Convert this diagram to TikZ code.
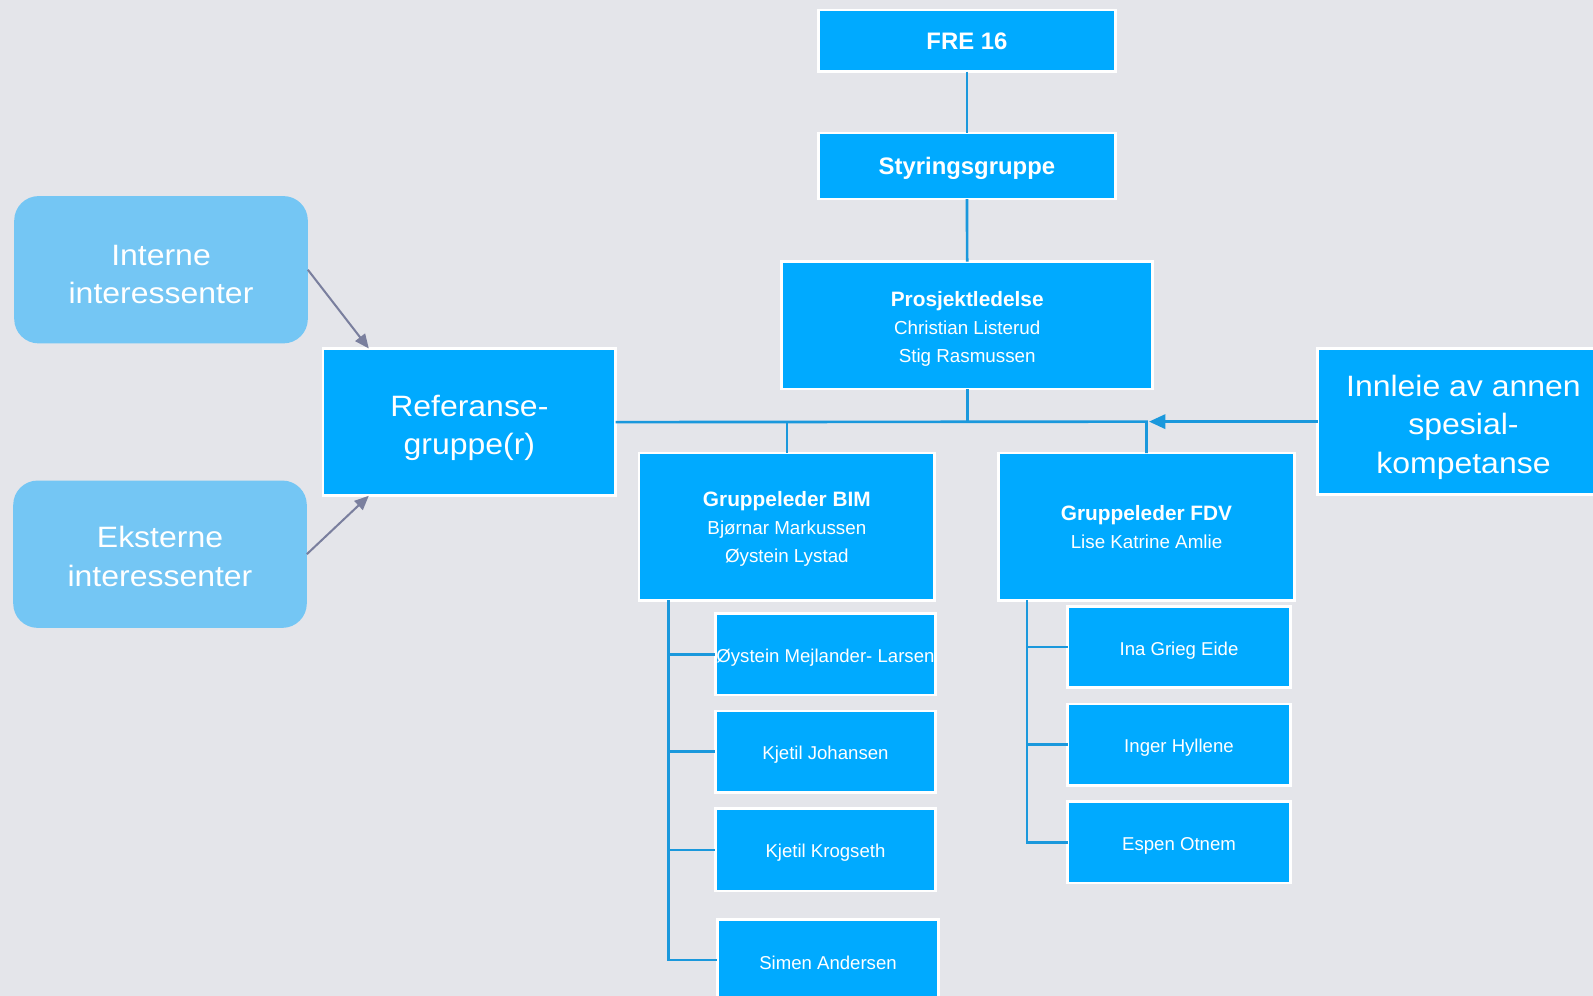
\documentclass[tikz,border=0pt]{standalone}
\usepackage{fontspec}
\setmainfont{Liberation Sans}
\newfontfamily\bigfont[FakeStretch=1.085]{Liberation Sans}
\usetikzlibrary{arrows.meta}
\definecolor{bg}{RGB}{228,229,234}
\definecolor{boxblue}{RGB}{0,170,255}
\definecolor{lightblue}{RGB}{116,198,244}
\definecolor{linec}{RGB}{26,152,220}
\definecolor{arrowgray}{RGB}{122,127,158}
\newcommand{\tstrut}[1]{\rule{0pt}{#1}}
\begin{document}
\begin{tikzpicture}[x=1pt,y=-1pt,
  box/.style={draw=white, line width=2.6pt, fill=boxblue, text=white, inner sep=0pt, outer sep=0pt, align=center},
  soft/.style={fill=lightblue, text=white, rounded corners=24pt, inner sep=0pt, outer sep=0pt, align=center},
  conn/.style={draw=linec, line width=2.6pt},
  garrow/.style={draw=arrowgray, line width=2pt, -{Triangle[length=14pt,width=12pt]}},
  barrow/.style={draw=linec, line width=2.6pt, -{Triangle[length=16pt,width=14pt]}},
  big/.style={font=\bigfont\fontsize{29}{38}\selectfont},
  mid/.style={font=\fontsize{18.5}{27.5}\selectfont},
  small/.style={font=\fontsize{18.3}{22}\selectfont},
  head/.style={font=\fontsize{23.5}{28}\selectfont\bfseries}
]
\useasboundingbox (0,0) rectangle (1568,980);
\fill[bg] (0,0) rectangle (1568,980);
\clip (0,0) rectangle (1568,980);

% main chain
\node[box, head, minimum width=292.5pt, minimum height=60.5pt] (fre) at (951.75,40.25) {FRE 16};
\node[box, head, minimum width=292.5pt, minimum height=65pt] (sty) at (951.75,163.5) {\tstrut{21pt}Styringsgruppe};
\node[box, mid, minimum width=365pt, minimum height=125.5pt] (pl) at (952,320.25)
  {\tstrut{21pt}{\fontsize{20.5}{27.5}\selectfont\bfseries Prosjektledelse}\\Christian Listerud\\Stig Rasmussen};

% side boxes
\node[box, big, minimum width=288pt, minimum height=145pt] (ref) at (462,415.5) {\tstrut{32pt}Referanse-\\gruppe(r)};
\node[soft, big, minimum width=289pt, minimum height=145pt] (int) at (158.5,265.5) {\tstrut{29pt}Interne\\interessenter};
\node[soft, big, minimum width=289pt, minimum height=145pt] (ext) at (157.5,545.5) {\tstrut{25pt}Eksterne\\interessenter};
\node[box, big, minimum width=287pt, minimum height=144pt] (inn) at (1440.5,415) {\tstrut{32pt}Innleie av annen\\spesial-\\kompetanse};

% group leaders
\node[box, mid, minimum width=291pt, minimum height=145pt] (bim) at (774.5,518.5)
  {\tstrut{19pt}{\fontsize{20.5}{27.5}\selectfont\bfseries Gruppeleder BIM}\\Bjørnar Markussen\\Øystein Lystad};
\node[box, mid, minimum width=291pt, minimum height=145pt] (fdv) at (1128.5,518.5)
  {{\fontsize{20.5}{27.5}\selectfont\bfseries Gruppeleder FDV}\\Lise Katrine Amlie};

% BIM members
\node[box, small, minimum width=217pt, minimum height=80pt] (c1) at (812.5,644) {\tstrut{19.5pt}Øystein Mejlander- Larsen};
\node[box, small, minimum width=217pt, minimum height=80pt] (c2) at (812.5,740) {\tstrut{19.5pt}Kjetil Johansen};
\node[box, small, minimum width=217pt, minimum height=81pt] (c3) at (812.5,836.5) {\tstrut{19.5pt}Kjetil Krogseth};
\node[box, small, minimum width=218pt, minimum height=80pt] (c4) at (815,945) {\tstrut{19.5pt}Simen Andersen};

% FDV members
\node[box, small, minimum width=219pt, minimum height=80pt] (f1) at (1160.5,637) {\tstrut{19.5pt}Ina Grieg Eide};
\node[box, small, minimum width=219pt, minimum height=80pt] (f2) at (1160.5,733) {\tstrut{19.5pt}Inger Hyllene};
\node[box, small, minimum width=219pt, minimum height=80pt] (f3) at (1160.5,829) {\tstrut{19.5pt}Espen Otnem};

% junction coordinates
\coordinate (jp) at (952,415);
\coordinate (jb) at (774.5,415);
\coordinate (jf) at (1128.5,415);
\coordinate (jfa) at (1131,415);
\coordinate (bb) at (658,591);
\coordinate (fb) at (1011,591);

% connectors
\draw[conn] (fre.south) -- (sty.north);
\draw[conn] (sty.south) -- (pl.north);
\draw[conn] (pl.south) -- (jp);
\draw[conn] (ref.east) -- (jf) -- (fdv.north);
\draw[conn] (bim.north) -- (jb);
\draw[barrow] (inn.west) -- (jfa);

\draw[conn] (bb) |- (c1.west);
\draw[conn] (bb) |- (c2.west);
\draw[conn] (bb) |- (c3.west);
\draw[conn] (bb) |- (c4.west);
\draw[conn] (fb) |- (f1.west);
\draw[conn] (fb) |- (f2.west);
\draw[conn] (fb) |- (f3.west);

\draw[garrow] (int.east) -- ([xshift=45pt]ref.north west);
\draw[garrow] (ext.east) -- ([xshift=45pt]ref.south west);
\end{tikzpicture}
\end{document}
